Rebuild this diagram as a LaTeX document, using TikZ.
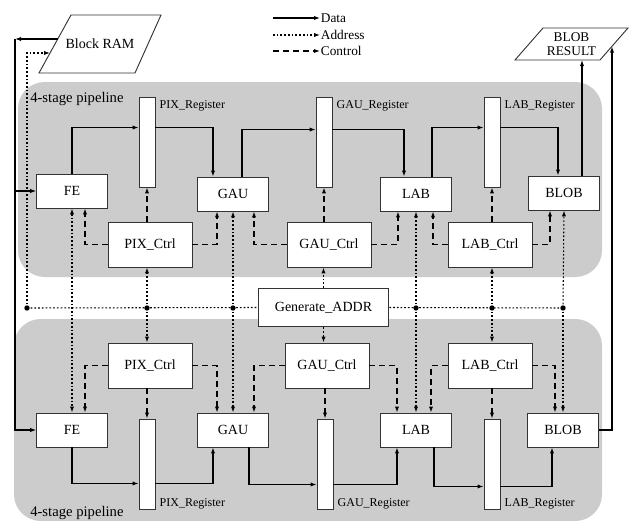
\documentclass[tikz,border=0pt]{standalone}
\usepackage{fontspec}
\setmainfont{Liberation Serif}
\usetikzlibrary{arrows.meta,positioning,calc}
\tikzset{
  >={Latex[length=4.5pt,width=3.2pt]},
  blk/.style={draw=black!80,fill=white,line width=0.7pt,inner sep=0pt,
    minimum width=53pt,minimum height=25.5pt},
  ctlbox/.style={blk,minimum width=63pt,minimum height=33.75pt},
  genbox/.style={blk,minimum width=98pt,minimum height=29pt},
  regbar/.style={draw=black!80,fill=white,line width=0.7pt,inner sep=0pt,
    minimum width=12pt,minimum height=67.5pt},
  iobox/.style={draw=black!80,fill=white,line width=0.7pt},
  reglab/.style={anchor=west,inner sep=0pt,font=\fontsize{9}{10}\selectfont},
  pipelab/.style={anchor=west,inner sep=0pt,font=\fontsize{11}{12}\selectfont},
  lgd/.style={anchor=west,inner sep=0.5pt,font=\fontsize{10}{11}\selectfont},
  pipe/.style={fill=black!20,rounded corners=20pt},
  dat/.style={line width=0.8pt,->},
  adr/.style={dat,dash pattern=on 1.3pt off 1.5pt},
  ctl/.style={dat,dash pattern=on 4.5pt off 3pt},
  jdot/.style={circle,fill,inner sep=0pt,minimum size=4pt},
}

\begin{document}
\begin{tikzpicture}[x=0.75pt,y=-0.75pt,font=\fontsize{10.5}{12}\selectfont]
  \useasboundingbox (0,0) rectangle (637,521);
  \fill[pipe] (18,82) rectangle (602,277);
  \fill[pipe] (14,319) rectangle (602,521);
  \node[pipelab] (pl1) at (30,99) {4-stage pipeline};
  \node[pipelab] (pl2) at (30,513) {4-stage pipeline};

  % memories and legend
  \draw[iobox] (39,73) -- (71,15) -- (161,15) -- (135,73) -- cycle;
  \node (ram) at (100,44) {Block RAM};
  \coordinate (ramin) at (50,53);
  \coordinate (ramout) at (58,39);
  \draw[iobox] (515,60) -- (543,28) -- (628,28) -- (600,60) -- cycle;
  \node[align=center,font=\fontsize{10}{10.5}\selectfont] (res) at (571.5,44) {BLOB\\RESULT};
  \coordinate (resb) at (571.5,60);
  \coordinate (resr) at (612,46.5);
  \node[lgd] (ld) at (320,18) {Data};
  \node[lgd] (la) at (320,35) {Address};
  \node[lgd] (lc) at (320,51) {Control};
  \coordinate (ld0) at (273,18);
  \coordinate (la0) at (273,35);
  \coordinate (lc0) at (273,51);
  \draw[dat] (ld0) -- (ld.west);
  \draw[adr] (la0) -- (la.west);
  \draw[ctl] (lc0) -- (lc.west);

  % upper pipeline
  \node[blk] (fe1) at (72,191) {FE};
  \node[blk] (gau1) at (233,194) {GAU};
  \node[blk] (lab1) at (416,194) {LAB};
  \node[blk] (blob1) at (564,193) {BLOB};
  \node[regbar] (preg1) at (147,142) {};
  \node[regbar] (greg1) at (324,142) {};
  \node[regbar] (lreg1) at (492,142) {};
  \node[reglab] (pregl1) at ($(preg1.north east)+(4,9)$) {PIX\_Register};
  \node[reglab] (gregl1) at ($(greg1.north east)+(4,9)$) {GAU\_Register};
  \node[reglab] (lregl1) at ($(lreg1.north east)+(4,9)$) {LAB\_Register};
  \node[ctlbox] (pctl1) at (150,244.5) {PIX\_Ctrl};
  \node[ctlbox] (gctl1) at (329,244.5) {GAU\_Ctrl};
  \node[ctlbox] (lctl1) at (490,244.5) {LAB\_Ctrl};

  % lower pipeline
  \node[blk] (fe2) at (72,430) {FE};
  \node[blk] (gau2) at (233,430) {GAU};
  \node[blk] (lab2) at (416,430) {LAB};
  \node[blk] (blob2) at (563,430) {BLOB};
  \node[regbar] (preg2) at (147,464) {};
  \node[regbar] (greg2) at (325,464) {};
  \node[regbar] (lreg2) at (492,464) {};
  \node[reglab] (pregl2) at ($(preg2.south east)+(4,-6)$) {PIX\_Register};
  \node[reglab] (gregl2) at ($(greg2.south east)+(4,-6)$) {GAU\_Register};
  \node[reglab] (lregl2) at ($(lreg2.south east)+(4,-6)$) {LAB\_Register};
  \node[ctlbox] (pctl2) at (150,365.5) {PIX\_Ctrl};
  \node[ctlbox] (gctl2) at (327,365.5) {GAU\_Ctrl};
  \node[ctlbox] (lctl2) at (490,365.5) {LAB\_Ctrl};

  \node[genbox] (gen) at (323.5,307.5) {Generate\_ADDR};

  % address
  \node[jdot] (j0) at (27,308) {};
  \node[jdot] (j1) at (147,308) {};
  \node[jdot] (j2) at (233,308) {};
  \node[jdot] (j3) at (416,308) {};
  \node[jdot] (j4) at (492,308) {};
  \node[jdot] (j5) at (563,308) {};
  \draw[adr,-] (j0.center) -- (gen.west);
  \draw[adr,-] (gen.east) -- (j5.center);
  \draw[adr] (j0.center) |- (ramin);
  \draw[adr,<->] (fe1.south) -- (fe2.north);
  \draw[adr] (j1.center) -- (j1 |- pctl1.south);
  \draw[adr] (j1.center) -- (j1 |- pctl2.north);
  \draw[adr] (j2.center) -- (gau1.south);
  \draw[adr] (j2.center) -- (gau2.north);
  \draw[adr] (gen.north) -- (gen.north |- gctl1.south);
  \draw[adr] (gen.south) -- (gen.south |- gctl2.north);
  \draw[adr] (j3.center) -- (lab1.south);
  \draw[adr] (j3.center) -- (lab2.north);
  \draw[adr] (j4.center) -- (j4 |- lctl1.south);
  \draw[adr] (j4.center) -- (j4 |- lctl2.north);
  \draw[adr] (j5.center) -- (blob1.south);
  \draw[adr] (j5.center) -- (blob2.north);

  % control
  \draw[ctl] (pctl1.west) -| ($(fe1.south)+(13,0)$);
  \draw[ctl] (preg1 |- pctl1.north) -- (preg1.south);
  \draw[ctl] (pctl1.east) -| ($(gau1.south)+(-16,0)$);
  \draw[ctl] (gctl1.west) -| ($(gau1.south)+(21,0)$);
  \draw[ctl] (greg1 |- gctl1.north) -- (greg1.south);
  \draw[ctl] (gctl1.east) -| ($(lab1.south)+(-18,0)$);
  \draw[ctl] (lctl1.west) -| ($(lab1.south)+(17,0)$);
  \draw[ctl] (lreg1 |- lctl1.north) -- (lreg1.south);
  \draw[ctl] (lctl1.east) -| ($(blob1.south)+(-14,0)$);
  \draw[ctl] (pctl2.west) -| ($(fe2.north)+(13,0)$);
  \draw[ctl] (preg2 |- pctl2.south) -- (preg2.north);
  \draw[ctl] (pctl2.east) -| ($(gau2.north)+(-16,0)$);
  \draw[ctl] (gctl2.west) -| ($(gau2.north)+(21,0)$);
  \draw[ctl] (greg2 |- gctl2.south) -- (greg2.north);
  \draw[ctl] (gctl2.east) -| ($(lab2.north)+(-19,0)$);
  \draw[ctl] (lctl2.west) -| ($(lab2.north)+(15,0)$);
  \draw[ctl] (lreg2 |- lctl2.south) -- (lreg2.north);
  \draw[ctl] (lctl2.east) -| ($(blob2.north)+(-8,0)$);

  % data
  \coordinate (bus) at (15,39);
  \draw[dat] (ramout) -- (bus);
  \draw[dat] (bus) |- (fe1.west);
  \draw[dat] (bus) |- (fe2.west);
  \draw[dat] (fe1.north) |- ($(preg1.north west)+(0,31)$);
  \draw[dat] ($(preg1.north east)+(0,31)$) -| ($(gau1.north)+(-20,0)$);
  \draw[dat] ($(gau1.north)+(9,0)$) |- ($(greg1.north west)+(0,33)$);
  \draw[dat] ($(greg1.north east)+(0,33)$) -| ($(lab1.north)+(-12,0)$);
  \draw[dat] ($(lab1.north)+(16,0)$) |- ($(lreg1.north west)+(0,31)$);
  \draw[dat] ($(lreg1.north east)+(0,31)$) -| ($(blob1.north)+(-6,0)$);
  \coordinate (bo) at ($(blob1.north)+(18,0)$);
  \draw[dat] (bo) -- (bo |- resb);
  \draw[dat] (fe2.south) |- ($(preg2.south west)+(0,-26)$);
  \draw[dat] ($(preg2.south east)+(0,-26)$) -| ($(gau2.south)+(-20,0)$);
  \draw[dat] ($(gau2.south)+(16,0)$) |- ($(greg2.south west)+(0,-25)$);
  \draw[dat] ($(greg2.south east)+(0,-25)$) -| ($(lab2.south)+(-19,0)$);
  \draw[dat] ($(lab2.south)+(18,0)$) |- ($(lreg2.south west)+(0,-23)$);
  \draw[dat] ($(lreg2.south east)+(0,-23)$) -| ($(blob2.south)+(-11,0)$);
  \draw[dat] (blob2.east) -| (resr);
\end{tikzpicture}
\end{document}
